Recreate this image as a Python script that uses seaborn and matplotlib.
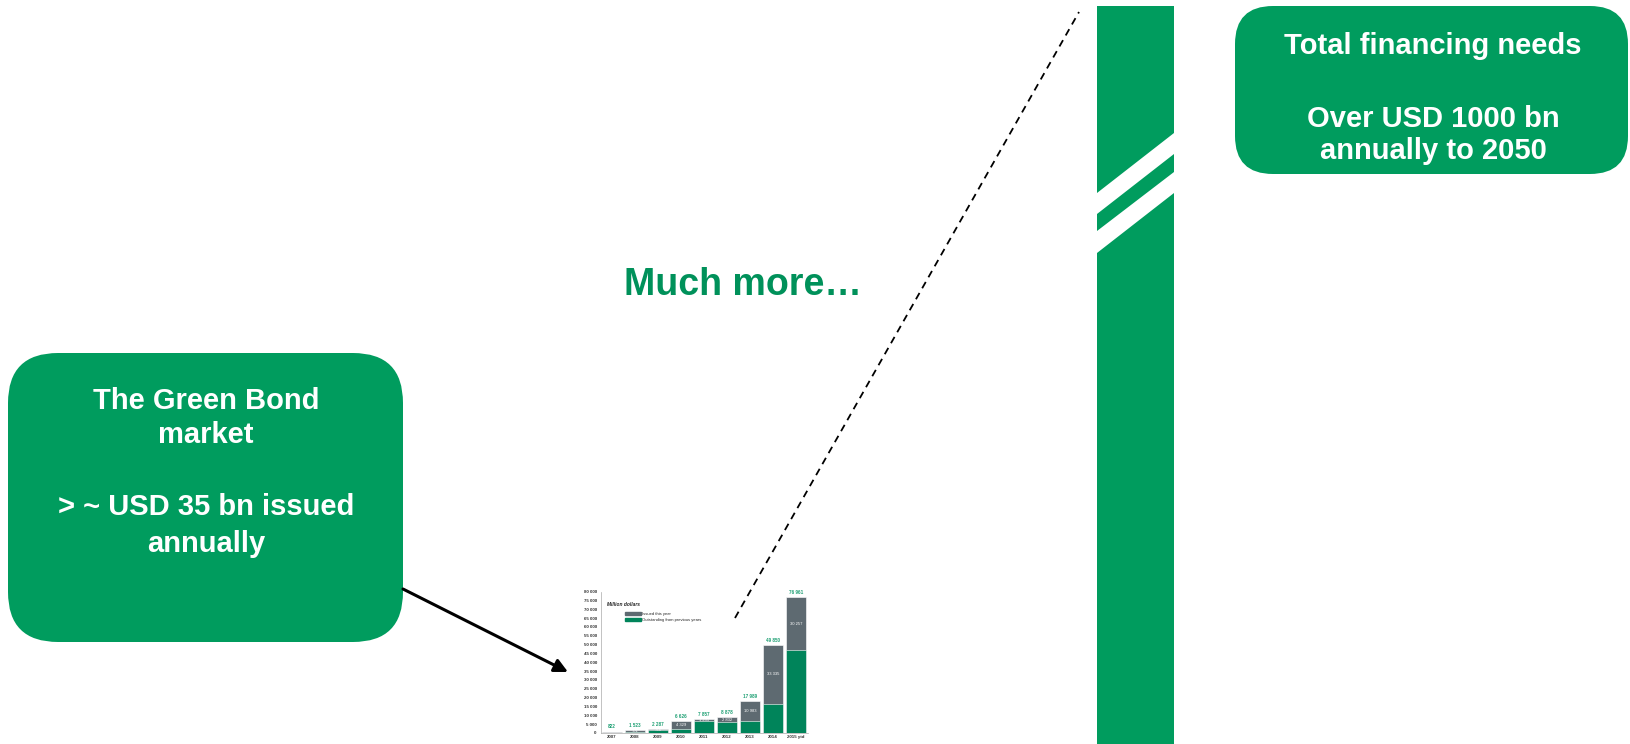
import matplotlib
matplotlib.use("Agg")
import matplotlib.pyplot as plt
from matplotlib.patches import FancyBboxPatch, Patch
import seaborn as sns
import pandas as pd

# ---------------- data ----------------
years = ["2007", "2008", "2009", "2010", "2011", "2012", "2013", "2014", "2015 ytd"]
issued = [822, 701, 774, 4329, 1231, 2832, 10983, 33335, 30257]
outstanding = [0, 822, 1513, 2297, 6626, 6046, 7006, 16515, 46704]
yticks = list(range(0, 80001, 5000))

left_box_lines = ["The Green Bond", "market", "", "> ~ USD 35 bn issued", "annually"]
right_box_lines = ["Total financing needs", "", "Over USD 1000 bn", "annually to 2050"]
middle_text = "Much more…"

GREEN = "#009C5E"
BAR_GREEN = "#00845A"
BAR_GRAY = "#5E6A71"
LABEL_GREEN = "#1FA074"

df = pd.DataFrame({"year": years, "issued": issued, "outstanding": outstanding})
df["total"] = df["issued"] + df["outstanding"]

def fmt(v):
    return f"{v:,}".replace(",", " ")

W, H = 1630, 744
sns.set_theme(style="white")
plt.rcParams["font.family"] = ["Liberation Sans", "DejaVu Sans"]

fig = plt.figure(figsize=(W / 100, H / 100), dpi=100)

# ---------------- overlay (pixel coordinates) ----------------
ax0 = fig.add_axes([0, 0, 1, 1])
ax0.set_xlim(0, W)
ax0.set_ylim(H, 0)
ax0.axis("off")

# left rounded box
ax0.add_patch(FancyBboxPatch((8, 353), 395, 289,
                             boxstyle="round,pad=0,rounding_size=50",
                             fc=GREEN, ec="none"))
for txt, y in zip(left_box_lines, [401, 435, 471, 507, 544]):
    if txt:
        ax0.text(206, y, txt, ha="center", va="center", color="white",
                 fontsize=21, fontweight="bold")

# right rounded box
ax0.add_patch(FancyBboxPatch((1235, 6), 393, 168,
                             boxstyle="round,pad=0,rounding_size=38",
                             fc=GREEN, ec="none"))
for txt, y in zip(right_box_lines, [46, 82, 119, 151]):
    if txt:
        ax0.text(1433, y, txt, ha="center", va="center", color="white",
                 fontsize=21, fontweight="bold")

# middle text
ax0.text(743, 285, middle_text, ha="center", va="center", color="#00915A",
         fontsize=27, fontweight="bold")

# tall broken bar
bx0, bx1 = 1097, 1174
ax0.fill([bx0, bx1, bx1, bx0], [6, 6, 133, 193], color=GREEN, lw=0)
ax0.fill([bx0, bx1, bx1, bx0], [214, 154, 172, 231], color=GREEN, lw=0)
ax0.fill([bx0, bx1, bx1, bx0], [253, 193, H, H], color=GREEN, lw=0)

# dashed line
ax0.plot([735, 1079], [618, 12], color="black", lw=1.3, ls=(0, (4, 3)))

# arrow
ax0.annotate("", xy=(568, 672), xytext=(403, 589),
             arrowprops=dict(arrowstyle="-|>", lw=2.2, color="black",
                             mutation_scale=20, shrinkA=0, shrinkB=0))

# ---------------- small stacked bar chart ----------------
ax = fig.add_axes([600.5 / W, (H - 733) / H, 207 / W, (141.4) / H])
ax.patch.set_alpha(0)
sns.barplot(data=df, x="year", y="total", color=BAR_GRAY, width=0.9,
            edgecolor="white", linewidth=0.4, saturation=1, ax=ax)
sns.barplot(data=df, x="year", y="outstanding", color=BAR_GREEN, width=0.9,
            edgecolor="white", linewidth=0.4, saturation=1, ax=ax)
ax.set_ylim(0, 80000)
ax.set_xlim(-0.5, len(years) - 0.5)
ax.set_yticks(yticks)
ax.set_yticklabels([fmt(v) for v in yticks], fontsize=3.2, color="#333333",
                   fontweight="bold")
ax.set_xticks(range(len(years)))
ax.set_xticklabels(years, fontsize=3.2, fontweight="bold", color="#333333")
ax.tick_params(axis="both", length=1.2, width=0.4, pad=1.5, color="#999999")
ax.tick_params(axis="x", length=0)
ax.set_xlabel("")
ax.set_ylabel("")
for s in ["top", "right"]:
    ax.spines[s].set_visible(False)
for s in ["left", "bottom"]:
    ax.spines[s].set_color("#AAAAAA")
    ax.spines[s].set_linewidth(0.5)

ax.bar_label(ax.containers[0], labels=[fmt(v) for v in df["total"]],
             padding=1.5, fontsize=3.3, color=LABEL_GREEN, fontweight="bold")
for i, r in df.iterrows():
    if r["outstanding"] > 0:
        ax.text(i, r["outstanding"] + r["issued"] / 2, fmt(r["issued"]),
                ha="center", va="center", fontsize=3, color="white")

ax.text(0.03, 0.912, "Million dollars", transform=ax.transAxes, fontsize=3.5,
        fontweight="bold", fontstyle="italic", color="#222222", va="center")
handles = [Patch(color=BAR_GRAY, label="Issued this year"),
           Patch(color=BAR_GREEN, label="Outstanding from previous years")]
ax.legend(handles=handles, loc="upper left",
          bbox_to_anchor=(625 / W, 1 - 611.5 / H), bbox_transform=fig.transFigure,
          frameon=False, fontsize=3, handlelength=3.8, handleheight=1.0,
          handletextpad=0.3, labelspacing=0.45, borderpad=0, borderaxespad=0)

fig.savefig("out.png", dpi=100)
